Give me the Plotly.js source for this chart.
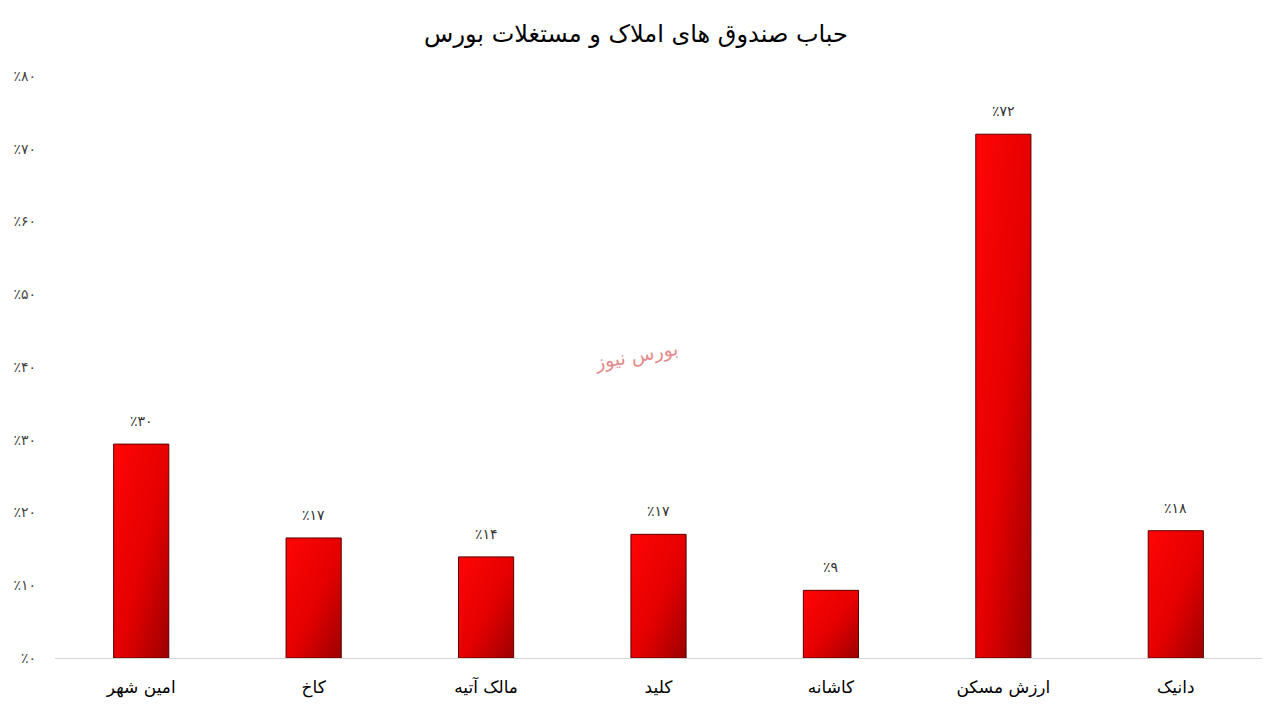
<!DOCTYPE html>
<html>
<head>
<meta charset="utf-8">
<script src="https://cdn.plot.ly/plotly-3.0.1.min.js"></script>
<style>
  html, body { margin: 0; padding: 0; background: #fff; }
  #plot { width: 1272px; height: 713px; }
</style>
</head>
<body>
<div id="plot"></div>
<script>
const funds = ['امین شهر', 'کاخ', 'مالک آتیه', 'کلید', 'کاشانه', 'ارزش مسکن', 'دانیک'];
const bubble = [29.4, 16.5, 13.9, 17.0, 9.3, 72.0, 17.5];
const bubbleLabels = ['٪۳۰', '٪۱۷', '٪۱۴', '٪۱۷', '٪۹', '٪۷۲', '٪۱۸'];
const tickVals = [0, 10, 20, 30, 40, 50, 60, 70, 80];
const tickText = ['٪۰', '٪۱۰', '٪۲۰', '٪۳۰', '٪۴۰', '٪۵۰', '٪۶۰', '٪۷۰', '٪۸۰'];

const fontFamily = 'DejaVu Sans, Noto Sans, sans-serif';

const trace = {
    x: funds,
    y: bubble,
    type: 'bar',
    marker: { color: '#e00000', line: { color: '#5a0000', width: 1 } },
    hoverinfo: 'none'
};

// value labels sit a bit higher above the bars than plotly's "outside" text
const valueNotes = funds.map((f, i) => ({
    x: f, y: bubble[i], xref: 'x', yref: 'y',
    text: bubbleLabels[i],
    showarrow: false,
    yanchor: 'bottom',
    yshift: 13,
    font: { family: fontFamily, size: 14, color: '#333' }
}));

const layout = {
    width: 1272,
    height: 713,
    paper_bgcolor: '#fff',
    plot_bgcolor: '#fff',
    margin: { t: 76, r: 10, b: 55, l: 55 },
    title: {
        text: 'حباب صندوق های املاک و مستغلات بورس',
        font: { family: fontFamily, size: 24, color: '#000' },
        x: 0.5, xanchor: 'center', y: 0.953, yanchor: 'middle'
    },
    bargap: 0.68,
    showlegend: false,
    xaxis: {
        type: 'category',
        showgrid: false,
        showline: true,
        linecolor: '#d4d4d4',
        linewidth: 1,
        ticks: '',
        tickfont: { family: fontFamily, size: 17, color: '#000' },
        ticklabelstandoff: 14
    },
    yaxis: {
        range: [0, 80],
        tickvals: tickVals,
        ticktext: tickText,
        showgrid: false,
        zeroline: false,
        showline: false,
        ticks: '',
        tickfont: { family: fontFamily, size: 14, color: '#444' },
        ticklabelstandoff: 18
    },
    annotations: valueNotes.concat([{
        text: 'بورس نیوز',
        x: 0.482, y: 0.52, xref: 'paper', yref: 'paper',
        xanchor: 'center', yanchor: 'middle',
        showarrow: false,
        textangle: -10,
        font: { family: fontFamily, size: 19, color: '#e58a8a' }
    }])
};

Plotly.newPlot('plot', [trace], layout, { displayModeBar: false, staticPlot: true }).then(gd => {
    // Bars in the source have a red-to-dark-red shade, Plotly has no gradient fill for bars
    const svg = gd.querySelector('svg.main-svg');
    const ns = 'http://www.w3.org/2000/svg';
    let defs = svg.querySelector('defs');
    if (!defs) { defs = document.createElementNS(ns, 'defs'); svg.prepend(defs); }
    const grad = document.createElementNS(ns, 'linearGradient');
    grad.setAttribute('id', 'barShade');
    grad.setAttribute('x1', '0'); grad.setAttribute('y1', '0');
    grad.setAttribute('x2', '1'); grad.setAttribute('y2', '1');
    [['0', '#ff0505'], ['0.55', '#e40000'], ['1', '#9c0000']].forEach(([o, c]) => {
        const s = document.createElementNS(ns, 'stop');
        s.setAttribute('offset', o);
        s.setAttribute('stop-color', c);
        grad.appendChild(s);
    });
    defs.appendChild(grad);
    gd.querySelectorAll('.bars .point path').forEach(p => { p.style.fill = 'url(#barShade)'; });
});
</script>
</body>
</html>
